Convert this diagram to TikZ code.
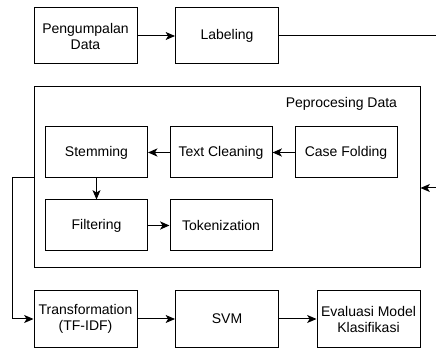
\documentclass[tikz,border=0pt]{standalone}
\usepackage{fontspec}
\setmainfont{Liberation Sans}
\usetikzlibrary{arrows.meta}
\begin{document}
\begin{tikzpicture}[x=0.75pt,y=-0.75pt,line width=0.75pt,
  box/.style={draw,fill=white,inner sep=0pt,align=center,font=\fontsize{10.5}{12}\selectfont},
  big/.style={box,minimum width=77.25pt,minimum height=42pt},
  small/.style={box,minimum width=76.5pt,minimum height=38.25pt},
  arr/.style={-{Stealth[length=7pt,width=6pt,inset=1.8pt]}},
  thick arr/.style={arr,line width=1.3pt}]
\useasboundingbox (0,0) rectangle (436,349);
\node[box,minimum width=289.5pt,minimum height=135.75pt] (prep) at (227,177.5) {};
\node[anchor=east,font=\fontsize{10.5}{12}\selectfont] (title) at (402,104) {Peprocesing Data};
\node[big] (kumpul) at (85.5,36) {Pengumpalan\\Data};
\node[big] (label) at (227,36) {Labeling};
\node[small] (stem) at (96.5,152.5) {Stemming};
\node[small] (clean) at (221,152.5) {Text Cleaning};
\node[small] (fold) at (346,152.5) {Case Folding};
\node[small] (filter) at (96.5,225.5) {Filtering};
\node[small] (token) at (221,225.5) {Tokenization};
\node[big] (tfidf) at (85.5,319) {Transformation\\(TF-IDF)};
\node[big] (svm) at (227,319) {SVM};
\node[big] (eval) at (368.5,319) {Evaluasi Model\\Klasifikasi};
\coordinate (lft) at (12,178);
\coordinate (rgt) at (440,188);
\draw[arr] (kumpul) -- (label);
\draw[arr] (label.east) -| (rgt) -- (rgt -| prep.east);
\draw[thick arr] (fold) -- (clean);
\draw[thick arr] (clean) -- (stem);
\draw[arr] (stem) -- (filter);
\draw[thick arr] (filter) -- (token);
\draw[arr] (prep.west |- lft) -- (lft) |- (tfidf.west);
\draw[arr] (tfidf) -- (svm);
\draw[arr] (svm) -- (eval);
\end{tikzpicture}
\end{document}
